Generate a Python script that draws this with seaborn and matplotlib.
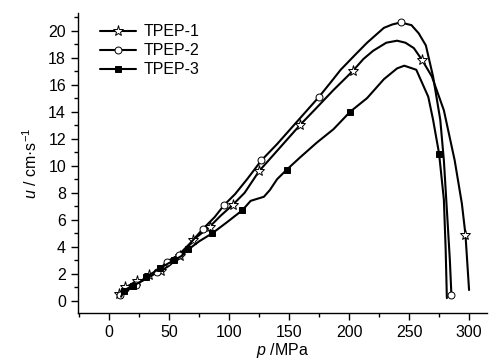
import numpy as np
import matplotlib.pyplot as plt
import seaborn as sns
import pandas as pd
from matplotlib.ticker import MultipleLocator

# TPEP-1 (open stars)
p1 = [8, 13, 18, 23, 28, 33, 38, 43, 50, 59, 66, 70, 77, 84, 93, 103, 113, 125, 135, 147,
      159, 172, 187, 203, 212, 220, 231, 240, 247, 254, 261, 269, 279, 288, 294, 297, 300]
u1 = [0.5, 1.0, 1.2, 1.5, 1.5, 1.9, 2.0, 2.2, 2.6, 3.3, 4.0, 4.5, 5.0, 5.5, 6.3, 7.1, 8.0, 9.6, 10.6, 11.8,
      13.0, 14.2, 15.6, 17.0, 17.9, 18.5, 19.1, 19.25, 19.1, 18.7, 17.8, 16.6, 14.1, 10.4, 7.2, 4.9, 0.8]
m1 = [0, 1, 3, 5, 7, 9, 11, 13, 15, 17, 20, 23, 30, 35]

# TPEP-2 (open circles)
p2 = [9, 15, 22, 30, 40, 48, 58, 68, 78, 88, 96, 105, 115, 127, 140, 152, 163, 175, 185, 193,
      205, 215, 229, 236, 243, 252, 258, 264, 270, 276, 279, 282, 284, 285.3]
u2 = [0.4, 0.9, 1.2, 1.6, 2.1, 2.9, 3.4, 4.3, 5.3, 6.2, 7.1, 7.9, 9.0, 10.4, 11.6, 12.8, 13.9, 15.1, 16.2, 17.1,
      18.2, 19.1, 20.2, 20.45, 20.6, 20.4, 19.8, 18.9, 16.6, 13.4, 10.4, 6.0, 3.0, 0.4]
m2 = [0, 2, 4, 5, 6, 8, 10, 13, 17, 24, 33]

# TPEP-3 (filled squares)
p3 = [10, 12, 16, 20, 26, 31, 37, 42, 48, 54, 60, 66, 75, 86, 98, 111, 118, 129, 134, 140,
      148, 159, 173, 187, 201, 215, 229, 240, 246, 256, 266, 270, 275, 279, 280.5, 281.5]
u3 = [0.3, 0.7, 0.8, 1.1, 1.4, 1.8, 2.1, 2.4, 2.7, 3.0, 3.3, 3.8, 4.4, 5.0, 5.8, 6.7, 7.4, 7.7, 8.2, 9.0,
      9.7, 10.6, 11.7, 12.7, 14.0, 15.0, 16.4, 17.2, 17.4, 17.1, 15.1, 13.4, 10.9, 7.5, 3.8, 0.2]
m3 = [1, 3, 5, 7, 9, 11, 13, 15, 20, 24, 32]

sns.set_style("ticks")
plt.rcParams['font.family'] = ['Liberation Sans', 'DejaVu Sans']
plt.rcParams['mathtext.fontset'] = 'custom'
plt.rcParams['mathtext.it'] = 'Liberation Sans:italic'
plt.rcParams['mathtext.rm'] = 'Liberation Sans'
plt.rcParams['text.color'] = 'black'
plt.rcParams['axes.labelcolor'] = 'black'
plt.rcParams['xtick.color'] = 'black'
plt.rcParams['ytick.color'] = 'black'

fig = plt.figure(figsize=(4.9, 3.61), dpi=100)
ax = fig.add_axes([0.159, 0.133, 0.835, 0.831])

series = [
    ("TPEP-1", p1, u1, m1, dict(marker="*", markersize=8, markerfacecolor="white", markeredgewidth=0.7)),
    ("TPEP-2", p2, u2, m2, dict(marker="o", markersize=5, markerfacecolor="white", markeredgewidth=0.7)),
    ("TPEP-3", p3, u3, m3, dict(marker="s", markersize=4.5, markerfacecolor="black", markeredgewidth=0.7)),
]
for name, p, u, m, style in series:
    df = pd.DataFrame({"p": p, "u": u})
    sns.lineplot(data=df, x="p", y="u", sort=False, estimator=None, ax=ax, color="black",
                 linewidth=1.5, markevery=m, markeredgecolor="black", label=name, **style)

ax.set_xlim(-26, 315)
ax.set_ylim(-0.9, 21.3)
ax.xaxis.set_major_locator(MultipleLocator(50))
ax.xaxis.set_minor_locator(MultipleLocator(25))
ax.yaxis.set_major_locator(MultipleLocator(2))
ax.yaxis.set_minor_locator(MultipleLocator(1))
ax.tick_params(which="major", direction="out", length=5, width=1, labelsize=11.5,
               color="black", labelcolor="black")
ax.tick_params(which="minor", direction="out", length=3, width=1, color="black")
for s in ["left", "bottom"]:
    ax.spines[s].set_color("black")
    ax.spines[s].set_linewidth(1)
sns.despine(ax=ax)

ax.set_xlabel(r"$\it{p}$ /MPa", fontsize=11.5, labelpad=1, color="black")
ax.set_ylabel(r"$\it{u}$ / cm·s$^{-1}$", fontsize=11.5, labelpad=6, color="black")

leg = ax.legend(loc="upper left", bbox_to_anchor=(0.02, 1.01), frameon=False, fontsize=11.5,
                handlelength=2.2, labelspacing=0.25, handletextpad=0.5)
for t in leg.get_texts():
    t.set_color("black")

fig.savefig("out.png", dpi=100)
